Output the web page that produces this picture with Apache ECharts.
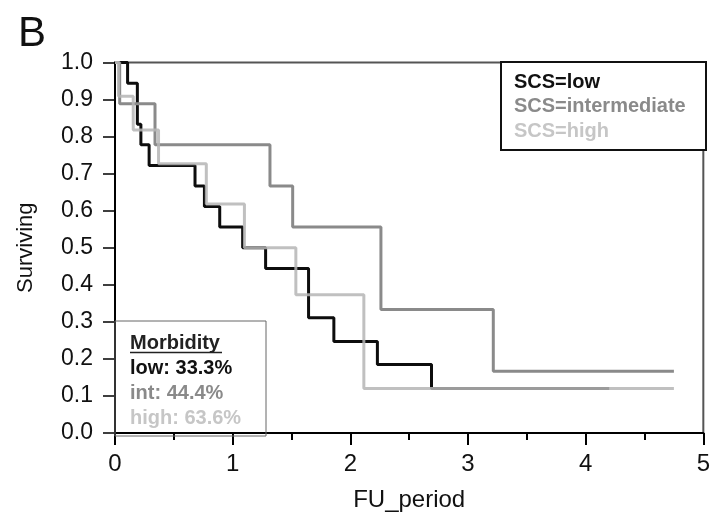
<!DOCTYPE html>
<html>
<head>
<meta charset="utf-8">
<script src="https://cdn.jsdelivr.net/npm/echarts@6.0.0/dist/echarts.min.js"></script>
<style>
  html, body { margin: 0; padding: 0; background: #fff; }
  #chart { width: 713px; height: 517px; }
</style>
</head>
<body>
<div id="chart"></div>
<script>
// Kaplan-Meier steps (time, surviving after that time)
let lowTime = [0, 0.107, 0.19, 0.22, 0.29, 0.68, 0.76, 0.89, 1.085, 1.28, 1.645, 1.86, 2.23, 2.69, 4.2];
let lowSurv = [1, 0.944, 0.833, 0.778, 0.722, 0.667, 0.611, 0.556, 0.5, 0.444, 0.311, 0.247, 0.185, 0.12, 0.12];

let intTime = [0, 0.04, 0.34, 1.317, 1.51, 2.26, 3.215, 4.75];
let intSurv = [1, 0.889, 0.778, 0.667, 0.556, 0.333, 0.167, 0.167];

let highTime = [0, 0.03, 0.155, 0.37, 0.776, 1.10, 1.537, 2.115, 4.75];
let highSurv = [1, 0.909, 0.818, 0.727, 0.618, 0.5, 0.373, 0.12, 0.12];

let legendNames = ['SCS=low', 'SCS=intermediate', 'SCS=high'];
let morbLabels = ['low: 33.3%', 'int: 44.4%', 'high: 63.6%'];
let colors = ['#0d0d0d', '#8a8a8a', '#b5b5b5'];
let opac = [1, 1, 0.85];
let textColors = ['#111111', '#8a8a8a', '#c6c6c6'];

let FONT = '"Liberation Sans", Arial, sans-serif';

function pairs(t, s) {
    let out = [];
    for (let i = 0; i < t.length; i++) out.push([t[i], s[i]]);
    return out;
}

let chart = echarts.init(document.getElementById('chart'), null, {renderer: 'canvas'});

let seriesData = [pairs(lowTime, lowSurv), pairs(intTime, intSurv), pairs(highTime, highSurv)];

let series = seriesData.map(function (d, i) {
    return {
        name: legendNames[i],
        type: 'line',
        step: 'end',
        symbol: 'none',
        data: d,
        z: 2 + i,
        lineStyle: {color: colors[i], width: 3, opacity: opac[i]},
        itemStyle: {color: colors[i]},
        animation: false
    };
});

// legend box (top right) and morbidity box (bottom left)
let legendTexts = legendNames.map(function (n, i) {
    return {
        type: 'text', left: 514, top: 72 + i * 24.5, z: 20,
        style: {text: n, fill: textColors[i], font: 'bold 20px ' + FONT}
    };
});
let morbTexts = morbLabels.map(function (n, i) {
    return {
        type: 'text', left: 130, top: 358 + i * 25, z: 20,
        style: {text: n, fill: textColors[i], font: 'bold 20px ' + FONT}
    };
});

let option = {
    backgroundColor: '#fff',
    animation: false,
    title: {
        text: 'B', left: 13, top: 8,
        textStyle: {fontSize: 42, fontWeight: 'normal', color: '#111', fontFamily: FONT}
    },
    grid: {
        left: 115, right: 7, top: 62.5, bottom: 81.5,
        show: true, borderColor: '#555', borderWidth: 2, backgroundColor: 'transparent'
    },
    xAxis: {
        type: 'value', min: 0, max: 5, interval: 1,
        name: 'FU_period', nameLocation: 'middle', nameGap: 55,
        nameTextStyle: {fontSize: 24, color: '#111', fontFamily: FONT},
        axisLine: {show: true, lineStyle: {color: '#000', width: 2}},
        axisTick: {show: true, length: 12, lineStyle: {color: '#000', width: 2}},
        minorTick: {show: true, splitNumber: 2, length: 7, lineStyle: {color: '#000', width: 2}},
        axisLabel: {fontSize: 24, color: '#111', margin: 19, fontFamily: FONT},
        splitLine: {show: false}
    },
    yAxis: {
        type: 'value', min: 0, max: 1, interval: 0.1,
        name: 'Surviving', nameLocation: 'middle', nameGap: 78,
        nameTextStyle: {fontSize: 22, color: '#111', fontFamily: FONT},
        axisLine: {show: true, lineStyle: {color: '#000', width: 2}},
        axisTick: {show: true, length: 12, lineStyle: {color: '#000', width: 1.5}},
        axisLabel: {
            fontSize: 23, color: '#111', margin: 22, fontFamily: FONT,
            formatter: function (v) { return v.toFixed(1); }
        },
        splitLine: {show: false}
    },
    series: series,
    graphic: [
        {
            type: 'rect', z: 10,
            shape: {x: 501, y: 62, width: 205, height: 88},
            style: {fill: '#fff', stroke: '#111', lineWidth: 2}
        },
        {
            type: 'rect', z: 10,
            shape: {x: 115, y: 321, width: 151, height: 115},
            style: {fill: 'transparent', stroke: '#666', lineWidth: 1}
        },
        {
            type: 'text', left: 130, top: 333, z: 20,
            style: {text: 'Morbidity', fill: '#222', font: 'bold 20px ' + FONT}
        },
        {
            type: 'line', z: 20,
            shape: {x1: 130, y1: 352.5, x2: 222, y2: 352.5},
            style: {stroke: '#222', lineWidth: 1.5}
        }
    ].concat(legendTexts, morbTexts)
};

chart.setOption(option);
</script>
</body>
</html>
